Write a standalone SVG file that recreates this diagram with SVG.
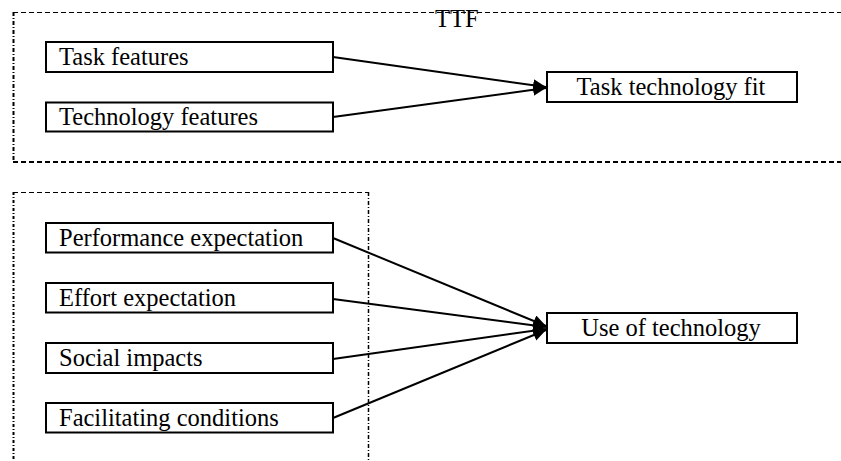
<svg xmlns="http://www.w3.org/2000/svg" width="841" height="461" viewBox="0 0 841 461">
<defs>
<marker id="arr" markerWidth="14" markerHeight="14" refX="13" refY="6" orient="auto" markerUnits="userSpaceOnUse">
<path d="M0,0 L13,6 L0,12 Z" fill="#000"/>
</marker>
<style>
.node rect{fill:#fff;stroke:#000;stroke-width:2}
.frame{fill:none;stroke:#000}
.conn line{stroke:#000;stroke-width:2}
</style>
</defs>
<rect x="0" y="0" width="841" height="461" fill="#fff"/>
<g font-family="Liberation Serif, Times New Roman, serif" font-size="24.5" fill="#000">
<g id="frame-ttf">
<line class="frame" x1="13" y1="12.5" x2="841" y2="12.5" stroke-width="1" stroke-dasharray="5,3"/>
<line class="frame" x1="13" y1="162" x2="841" y2="162" stroke-width="2" stroke-dasharray="5,3"/>
<line class="frame" x1="13.5" y1="12" x2="13.5" y2="162" stroke-width="2" stroke-dasharray="4,2,1,2"/>
<text x="435" y="27">TTF</text>
</g>
<g id="frame-utaut">
<line class="frame" x1="13" y1="192.5" x2="369" y2="192.5" stroke-width="1" stroke-dasharray="5,3"/>
<line class="frame" x1="13.5" y1="192" x2="13.5" y2="461" stroke-width="2" stroke-dasharray="3,2,1,2"/>
<line class="frame" x1="368.5" y1="192" x2="368.5" y2="461" stroke-width="1.5" stroke-dasharray="4,2,1,2"/>
</g>
<g id="n-task" class="node"><rect x="46" y="42" width="287" height="30"/><text x="59" y="65">Task features</text></g>
<g id="n-tech" class="node"><rect x="46" y="102.5" width="287" height="29"/><text x="59" y="125">Technology features</text></g>
<g id="n-ttf" class="node"><rect x="547" y="72" width="250" height="30"/><text x="671" y="95" text-anchor="middle">Task technology fit</text></g>
<g id="n-perf" class="node"><rect x="46" y="223" width="287" height="29.5"/><text x="59" y="246">Performance expectation</text></g>
<g id="n-effort" class="node"><rect x="46" y="283" width="287" height="29.5"/><text x="59" y="306">Effort expectation</text></g>
<g id="n-social" class="node"><rect x="46" y="343" width="287" height="30"/><text x="59" y="366">Social impacts</text></g>
<g id="n-facil" class="node"><rect x="46" y="403" width="287" height="29.5"/><text x="59" y="426">Facilitating conditions</text></g>
<g id="n-use" class="node"><rect x="547" y="313" width="250" height="30"/><text x="671" y="336" text-anchor="middle">Use of technology</text></g>
</g>
<g id="connectors" class="conn">
<line x1="333" y1="57" x2="546" y2="87" marker-end="url(#arr)"/>
<line x1="333" y1="117" x2="546" y2="88" marker-end="url(#arr)"/>
<line x1="333" y1="238" x2="546" y2="326" marker-end="url(#arr)"/>
<line x1="333" y1="299" x2="546" y2="327" marker-end="url(#arr)"/>
<line x1="333" y1="359" x2="546" y2="329" marker-end="url(#arr)"/>
<line x1="333" y1="418" x2="546" y2="330" marker-end="url(#arr)"/>
</g>
</svg>
